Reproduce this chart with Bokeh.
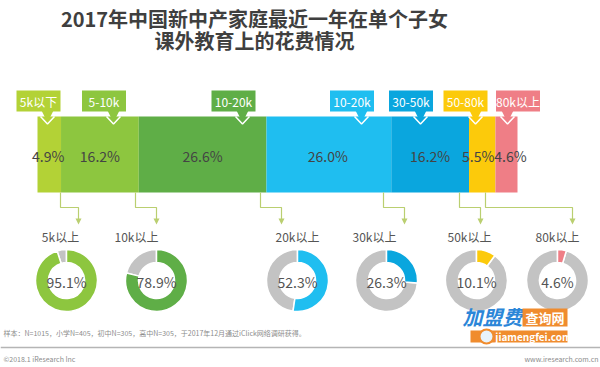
import math
from bokeh.plotting import figure
from bokeh.models import Range1d, ColumnDataSource
from bokeh.core.properties import value
from bokeh.embed import file_html
from bokeh.resources import INLINE

# ---------------- data ----------------
title_lines = ["2017年中国新中产家庭最近一年在单个子女", "课外教育上的花费情况"]
bands = ["5k以下", "5-10k", "10-20k", "10-20k", "30-50k", "50-80k", "80k以上"]
shares = [4.9, 16.2, 26.6, 26.0, 16.2, 5.5, 4.6]
band_colors = ["#b3d236", "#8dc63f", "#5fae47", "#1fbef0", "#0aa6de", "#fcca0b", "#ef7e86"]

ring_labels = ["5k以上", "10k以上", "20k以上", "30k以上", "50k以上", "80k以上"]
ring_values = [95.1, 78.9, 52.3, 26.3, 10.1, 4.6]
ring_colors = ["#8dc63f", "#5fae47", "#1fbef0", "#0aa6de", "#fcca0b", "#ef7e86"]

note = "样本：N=1015，小学N=405，初中N=305，高中N=305，于2017年12月通过iClick网络调研获得。"
copyright_txt = "©2018.1 iResearch Inc"
site_txt = "www.iresearch.com.cn"

FONT = value("Noto Sans CJK SC")

# ---------------- layout helpers (page pixel -> data x in percent) ----------------
BAR_LEFT_PX, PX_PER_PCT = 37.0, 4.8
def X(px):
    return (px - BAR_LEFT_PX) / PX_PER_PCT

W, H = 600, 367
p = figure(width=W, height=H, output_backend="svg", toolbar_location=None,
           x_range=Range1d(X(0), X(W)), y_range=Range1d(H, 0),
           min_border=0)
p.axis.visible = False
p.xgrid.visible = False
p.ygrid.visible = False
p.outline_line_color = None
p.background_fill_color = "white"
p.border_fill_color = "white"

# ---------------- title ----------------
p.text(x=[X(254)] * 2, y=[18, 40], text=title_lines, text_font=FONT,
       text_font_size="20px", text_font_style="bold", text_color="#3f3f3f",
       text_align="center", text_baseline="middle")

# ---------------- stacked bar ----------------
lefts, rights = [], []
acc = 0.0
for s in shares:
    lefts.append(acc)
    acc += s
    rights.append(acc)
label_dx = [-1, 0, 0, -1, 0, -4, 4]   # small pixel nudges for the narrow segments
bar_src = ColumnDataSource(dict(left=lefts, right=rights, color=band_colors,
                                mid=[(l + r) / 2 for l, r in zip(lefts, rights)],
                                lab=[f"{s}%" for s in shares], dx=label_dx))
p.quad(left="left", right="right", top=116, bottom=192, fill_color="color",
       line_color=None, source=bar_src)
p.text(x="mid", y=155, text="lab", source=bar_src, x_offset="dx", text_font=FONT,
       text_font_size="14px", text_color="#444444", text_align="center",
       text_baseline="middle")

# ---------------- callout tags above bar ----------------
tag_centers_px = [38, 103.5, 233, 351.5, 410.5, 465, 517.5]
tag_ptr_px = [47, 113, 242, 361, 420, 475, 507]
tag_w = 44
p.quad(left=[X(c - tag_w / 2) for c in tag_centers_px],
       right=[X(c + tag_w / 2) for c in tag_centers_px],
       top=90, bottom=111, fill_color=band_colors, line_color=None)
p.patches(xs=[[X(c - 6), X(c + 6), X(c)] for c in tag_ptr_px],
          ys=[[110, 110, 122]] * len(tag_ptr_px),
          fill_color=band_colors, line_color=None)
p.multi_line(xs=[[X(c - 7), X(c), X(c + 7)] for c in tag_ptr_px],
             ys=[[116, 123.5, 116]] * len(tag_ptr_px),
             line_color="white", line_width=1.5)
p.text(x=[X(c) for c in tag_centers_px], y=101, text=bands, text_font=FONT,
       text_font_size="12px", text_color="white", text_align="center",
       text_baseline="middle")

# ---------------- connector arrows ----------------
arrow_start_px = [60, 135, 260, 383, 459, 485]
arrow_end_px = [78, 156, 281, 404, 480, 572]
acol = "#bacf70"
p.multi_line(xs=[[X(a), X(a), X(b), X(b)] for a, b in zip(arrow_start_px, arrow_end_px)],
             ys=[[192, 207, 207, 219]] * 6, line_color=acol, line_width=1.2)
p.patches(xs=[[X(b - 3), X(b + 3), X(b)] for b in arrow_end_px],
          ys=[[218, 218, 224]] * 6, fill_color=acol, line_color=None)

# ---------------- donuts ----------------
ring_cx_px = [66, 156, 297, 386, 476, 557]
ring_label_px = [60, 136, 297, 374, 469, 557]
ring_cy = 280
p.text(x=[X(c) for c in ring_label_px], y=236, text=ring_labels, text_font=FONT,
       text_font_size="12px", text_color="#555555", text_align="center",
       text_baseline="middle")
top = math.pi / 2
for cx, v, col in zip(ring_cx_px, ring_values, ring_colors):
    end = top - 2 * math.pi * v / 100.0
    p.annular_wedge(x=X(cx), y=ring_cy, inner_radius=18, outer_radius=31,
                    inner_radius_units="screen", outer_radius_units="screen",
                    start_angle=end, end_angle=top - 2 * math.pi, direction="clock",
                    fill_color="#c3c3c3", line_color="white", line_width=1.5)
    p.annular_wedge(x=X(cx), y=ring_cy, inner_radius=18, outer_radius=31,
                    inner_radius_units="screen", outer_radius_units="screen",
                    start_angle=top, end_angle=end, direction="clock",
                    fill_color=col, line_color="white", line_width=1.5)
p.text(x=[X(c) for c in ring_cx_px], y=ring_cy + 1, text=[f"{v}%" for v in ring_values],
       text_font=FONT, text_font_size="14px", text_color="#555555",
       text_align="center", text_baseline="middle")

# ---------------- watermark ----------------
p.text(x=[X(492)], y=[316], text=["加盟费"], text_font=FONT, text_font_size="20px",
       text_font_style="bold italic", text_color="#2b86d8", text_align="center",
       text_baseline="middle")
p.quad(left=[X(522)], right=[X(567)], top=[308], bottom=[326],
       fill_color="#f08c2e", line_color=None)
p.text(x=[X(544.5)], y=[317], text=["查询网"], text_font=FONT, text_font_size="13px",
       text_font_style="bold", text_color="white", text_align="center",
       text_baseline="middle")
p.quad(left=[X(470)], right=[X(567)], top=[330], bottom=[342],
       fill_color="#f08c2e", line_color=None)
p.circle(x=[X(486)], y=[336], radius=7, radius_units="screen", fill_color="#e8f3fb",
         line_color="#f08c2e", line_width=2)
p.text(x=[X(533)], y=[336], text=["jiamengfei.com"], text_font=FONT,
       text_font_size="10px", text_font_style="bold", text_color="white",
       text_align="center", text_baseline="middle")

# ---------------- footer ----------------
p.text(x=[X(3)], y=[332], text=[note], text_font=FONT, text_font_size="7px",
       text_color="#8c8c8c", text_align="left", text_baseline="middle")
p.line(x=[X(0), X(W)], y=[347, 347], line_color="#b5b5b5", line_width=1.5)
p.text(x=[X(3)], y=[358], text=[copyright_txt], text_font=FONT, text_font_size="7px",
       text_color="#8c8c8c", text_align="left", text_baseline="middle")
p.text(x=[X(598)], y=[358], text=[site_txt], text_font=FONT, text_font_size="7px",
       text_color="#8c8c8c", text_align="right", text_baseline="middle")

open("out.html", "w").write(file_html(p, INLINE))
